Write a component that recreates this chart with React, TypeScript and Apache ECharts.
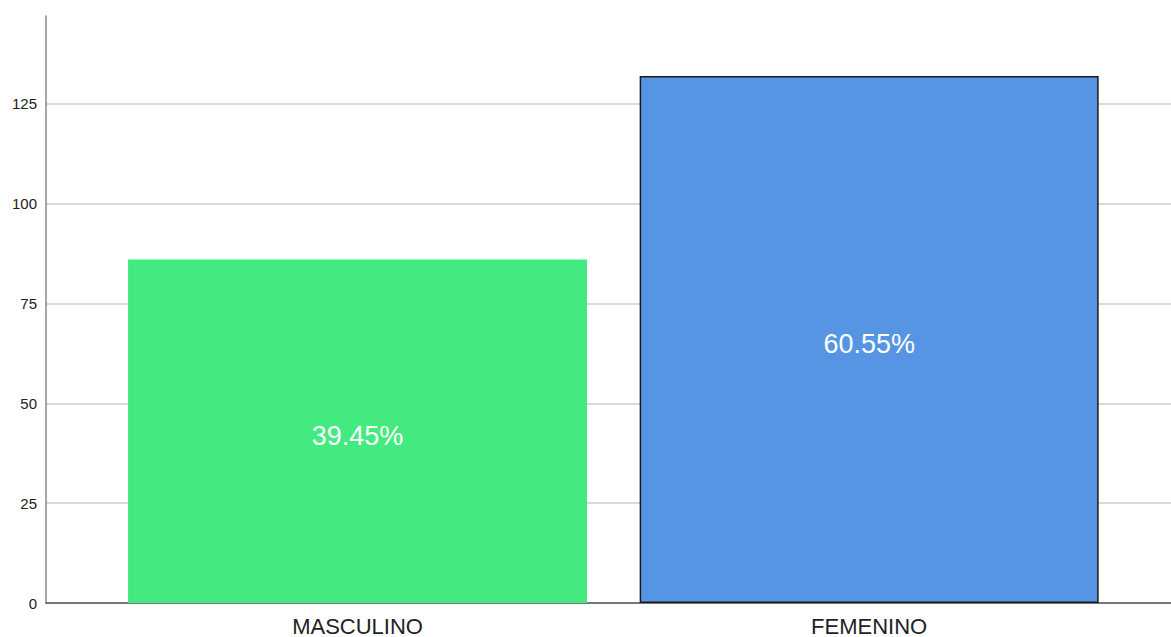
import React, { useEffect, useRef } from "react";
import * as echarts from "echarts";

const categories = ["MASCULINO", "FEMENINO"];
const counts = [86, 132];
const percentLabels = ["39.45%", "60.55%"];
const barColors = ["#42EA80", "#5595E4"];
const barBorders = ["transparent", "#1b1b1b"];

export default function App() {
  const ref = useRef<HTMLDivElement>(null);
  useEffect(() => {
    if (!ref.current) return;
    const chart = echarts.init(ref.current, undefined, { renderer: "svg" });
    const font = "'Liberation Sans', Arial, sans-serif";
    chart.setOption({
      animation: false,
      grid: { left: 46, right: 0, top: 16, bottom: 34, containLabel: false },
      xAxis: {
        type: "value",
        min: -0.609,
        max: 1.59,
        splitLine: { show: false },
        axisTick: { show: false },
        axisLine: { show: true, onZero: false, lineStyle: { color: "#555555", width: 1.5 } },
        axisLabel: {
          customValues: [0, 1],
          formatter: (v: number) => categories[Math.round(v)] ?? "",
          color: "#222222",
          fontSize: 22,
          fontFamily: font,
          margin: 12,
        },
      },
      yAxis: {
        type: "value",
        min: 0,
        max: 147,
        interval: 25,
        axisLine: { show: true, onZero: false, lineStyle: { color: "#888888", width: 1.5 } },
        axisTick: { show: false },
        splitLine: { show: true, showMaxLine: false, lineStyle: { color: "#cccccc", width: 1.5 } },
        axisLabel: {
          color: "#222222",
          fontSize: 15,
          fontFamily: font,
          margin: 9,
          showMaxLabel: false,
        },
      },
      series: [
        {
          type: "bar",
          barWidth: 459,
          data: counts.map((v, i) => ({
            value: [i, v],
            itemStyle: {
              color: barColors[i],
              borderColor: barBorders[i],
              borderWidth: i === 1 ? 1.5 : 0,
            },
            label: {
              show: true,
              position: "inside",
              offset: [0, 5],
              formatter: percentLabels[i],
              color: "#ffffff",
              fontSize: 27,
              fontFamily: font,
            },
          })),
        },
      ],
    });
    return () => chart.dispose();
  }, []);
  return <div ref={ref} style={{ width: 1171, height: 637, position: "absolute", left: 0, top: 0 }} />;
}
